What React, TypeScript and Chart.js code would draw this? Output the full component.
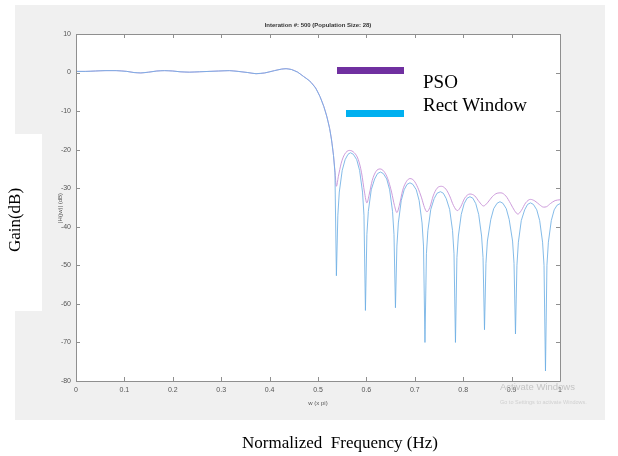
import React, { useEffect, useRef } from "react";
import { Chart, registerables } from "chart.js";

Chart.register(...registerables);

// Pass band + transition (shared by both curves), frequency in units of pi, gain in dB
const passFreq = [0, 0.02, 0.04, 0.06, 0.083, 0.105, 0.12, 0.134, 0.15, 0.167, 0.183, 0.2, 0.215, 0.234, 0.255, 0.275, 0.295, 0.317, 0.335, 0.355, 0.372, 0.39, 0.41, 0.425, 0.434, 0.445, 0.458, 0.47, 0.483, 0.495, 0.504, 0.512, 0.518, 0.524, 0.528, 0.532];
const passGain = [0.3, 0.3, 0.4, 0.5, 0.5, 0.3, 0.0, -0.1, 0.1, 0.4, 0.5, 0.4, 0.2, 0.1, 0.2, 0.3, 0.4, 0.5, 0.3, 0.0, -0.3, -0.1, 0.5, 0.9, 1.0, 0.8, 0.1, -1.0, -2.2, -4.0, -6.2, -8.8, -11.3, -14.5, -17.5, -21.5];

// Rect Window stop band
const rectFreq = [0.535, 0.538, 0.541, 0.544, 0.55, 0.556, 0.562, 0.567, 0.573, 0.58, 0.586, 0.592, 0.595, 0.598,
  0.601, 0.604, 0.61, 0.617, 0.623, 0.629, 0.635, 0.642, 0.648, 0.654, 0.657, 0.66,
  0.663, 0.666, 0.672, 0.678, 0.684, 0.69, 0.696, 0.703, 0.709, 0.715, 0.718, 0.721,
  0.724, 0.727, 0.733, 0.74, 0.746, 0.753, 0.759, 0.765, 0.772, 0.778, 0.781, 0.784,
  0.787, 0.79, 0.796, 0.802, 0.808, 0.814, 0.82, 0.826, 0.832, 0.838, 0.841, 0.844,
  0.847, 0.85, 0.857, 0.863, 0.87, 0.876, 0.882, 0.889, 0.895, 0.902, 0.905, 0.908,
  0.911, 0.914, 0.92, 0.927, 0.933, 0.939, 0.945, 0.952, 0.958, 0.964, 0.967, 0.97,
  0.973, 0.976, 0.982, 0.988, 0.994, 1.0];
const rectGain = [-26, -52.7, -37, -31, -25.4, -22.6, -21.2, -20.8, -21.2, -22.6, -25.4, -31, -37, -61.7,
  -42, -36, -30.4, -27.6, -26.2, -25.8, -26.2, -27.6, -30.4, -36, -42, -61,
  -45, -39, -33.2, -30.4, -29, -28.6, -29, -30.4, -33.2, -39, -45, -70,
  -47, -41, -35.5, -32.7, -31.3, -30.9, -31.3, -32.7, -35.5, -41, -47, -70,
  -48, -42.4, -36.8, -34, -32.6, -32.2, -32.6, -34, -36.8, -42.4, -48, -66.7,
  -49.5, -43.7, -38.1, -35.3, -33.9, -33.5, -33.9, -35.3, -38.1, -43.7, -49.5, -67.8,
  -50, -44, -38.4, -35.6, -34.2, -33.8, -34.2, -35.6, -38.4, -44, -50, -77.4,
  -50, -44, -38.4, -35.6, -34.4, -34];

// PSO stop band
const psoFreq = [0.535, 0.538, 0.542, 0.548, 0.555, 0.565, 0.575, 0.583, 0.59, 0.596, 0.601, 0.606, 0.612, 0.62, 0.628, 0.636, 0.644, 0.652, 0.658, 0.663, 0.668, 0.675, 0.683, 0.69, 0.698, 0.706, 0.714, 0.72, 0.725, 0.731, 0.738, 0.746, 0.755, 0.764, 0.772, 0.78, 0.788, 0.795, 0.803, 0.814, 0.824, 0.833, 0.842, 0.85, 0.86, 0.87, 0.878, 0.888, 0.898, 0.906, 0.913, 0.92, 0.929, 0.939, 0.948, 0.958, 0.966, 0.972, 0.98, 0.99, 1.0];
const psoGain = [-25.5, -29.5, -27, -23.5, -21.2, -20.2, -20.8, -22.5, -26, -31, -33.8, -31.5, -28, -25.6, -25, -25.6, -27.5, -31, -34.5, -36.3, -34.5, -30.5, -28.2, -27.5, -28, -29.8, -32.5, -35, -36.1, -35, -32, -30, -29.5, -30.2, -32, -34.5, -35.8, -34.8, -32.6, -31.5, -32, -33.5, -34.6, -33.8, -32.2, -31.3, -31.2, -32, -34, -35.8, -36.7, -35.8, -33.8, -32.9, -33.3, -34.3, -34.9, -34.8, -34, -33.2, -33];

const xTickStep = 0.1;
const yTickStep = 10;

const toPoints = (xs: number[], ys: number[]) => xs.map((x, i) => ({ x, y: ys[i] }));

const boxPlugin = {
  id: "matlabBox",
  afterDraw(chart: any) {
    const { ctx, chartArea } = chart;
    const { left, right, top, bottom } = chartArea;
    const xs = chart.scales.x;
    const ys = chart.scales.y;
    ctx.save();
    ctx.strokeStyle = "#8f8f8f";
    ctx.lineWidth = 1;
    ctx.beginPath();
    ctx.rect(Math.round(left) + 0.5, Math.round(top) + 0.5, Math.round(right - left), Math.round(bottom - top));
    ctx.stroke();
    const t = 4;
    ctx.beginPath();
    xs.ticks.forEach((tk: any) => {
      const px = Math.round(xs.getPixelForValue(tk.value)) + 0.5;
      ctx.moveTo(px, bottom);
      ctx.lineTo(px, bottom - t);
      ctx.moveTo(px, top);
      ctx.lineTo(px, top + t);
    });
    ys.ticks.forEach((tk: any) => {
      const py = Math.round(ys.getPixelForValue(tk.value)) + 0.5;
      ctx.moveTo(left, py);
      ctx.lineTo(left + t, py);
      ctx.moveTo(right, py);
      ctx.lineTo(right - t, py);
    });
    ctx.stroke();
    ctx.restore();
  },
};

export default function App() {
  const ref = useRef<HTMLCanvasElement | null>(null);

  useEffect(() => {
    if (!ref.current) return;
    const rectPts = toPoints(passFreq, passGain).concat(toPoints(rectFreq, rectGain));
    const psoPts = toPoints(passFreq, passGain).concat(toPoints(psoFreq, psoGain));
    const chart = new Chart(ref.current, {
      type: "line",
      data: {
        datasets: [
          {
            label: "Rect Window",
            data: rectPts,
            borderColor: "rgba(110,175,228,0.85)",
            borderWidth: 1,
            pointRadius: 0,
            tension: 0,
            order: 0,
          },
          {
            label: "PSO",
            data: psoPts,
            borderColor: "rgba(200,145,215,0.9)",
            borderWidth: 1,
            pointRadius: 0,
            cubicInterpolationMode: "monotone",
            order: 1,
          },
        ],
      },
      options: {
        responsive: false,
        maintainAspectRatio: false,
        animation: false,
        layout: { padding: { left: 40, right: 58, top: 34, bottom: 55 } },
        plugins: { legend: { display: false }, tooltip: { enabled: false }, title: { display: false } },
        scales: {
          x: {
            type: "linear",
            min: 0,
            max: 1,
            grid: { display: false, drawTicks: false },
            border: { display: false },
            ticks: {
              stepSize: xTickStep,
              padding: 5,
              maxRotation: 0,
              color: "#555",
              font: { family: "Liberation Sans, Arial, sans-serif", size: 7 },
              callback: (v: any) => {
                const n = Number(v);
                if (Math.abs(n) < 1e-9) return "0";
                if (Math.abs(n - 1) < 1e-9) return "1";
                return n.toFixed(1);
              },
            },
            afterFit: (s: any) => {
              s.height = 20;
            },
          },
          y: {
            type: "linear",
            min: -80,
            max: 10,
            grid: { display: false, drawTicks: false },
            border: { display: false },
            ticks: {
              stepSize: yTickStep,
              padding: 5,
              color: "#555",
              font: { family: "Liberation Sans, Arial, sans-serif", size: 7 },
            },
            afterFit: (s: any) => {
              s.width = 36;
            },
          },
        },
      },
      plugins: [boxPlugin],
    });
    return () => chart.destroy();
  }, []);

  const sans = "Liberation Sans, Arial, sans-serif";
  const serif = "Liberation Serif, 'Times New Roman', serif";

  return (
    <div style={{ position: "fixed", left: 0, top: 0, width: 618, height: 456, background: "#fff", overflow: "hidden" }}>
      <div style={{ position: "absolute", left: 15, top: 5, width: 590, height: 415, background: "#f0f0f0" }} />
      <div style={{ position: "absolute", left: 76, top: 34, width: 484, height: 347, background: "#fff" }} />
      <canvas ref={ref} width={618} height={456} style={{ position: "absolute", left: 0, top: 0, width: 618, height: 456 }} />
      <div style={{ position: "absolute", left: 218, top: 20, width: 200, textAlign: "center", fontFamily: sans, fontWeight: "bold", fontSize: 6, color: "#333", lineHeight: "10px", whiteSpace: "nowrap" }}>
        Interation #: 500 (Population Size: 28)
      </div>
      <div style={{ position: "absolute", left: 60, top: 208, width: 0, height: 0 }}>
        <div style={{ position: "absolute", left: -50, top: -5, width: 100, textAlign: "center", transform: "rotate(-90deg)", fontFamily: sans, fontSize: 6, color: "#555", lineHeight: "10px", whiteSpace: "nowrap" }}>
          |H(jw)| (dB)
        </div>
      </div>
      <div style={{ position: "absolute", left: 268, top: 398, width: 100, textAlign: "center", fontFamily: sans, fontSize: 6, color: "#555", lineHeight: "10px" }}>
        w (x pi)
      </div>
      <div style={{ position: "absolute", left: 500, top: 381, fontFamily: sans, fontSize: 9.5, color: "#c4c4c4", lineHeight: "12px", whiteSpace: "nowrap" }}>
        Activate Windows
      </div>
      <div style={{ position: "absolute", left: 500, top: 398, fontFamily: sans, fontSize: 5.5, color: "#d0d0d0", lineHeight: "8px", whiteSpace: "nowrap" }}>
        Go to Settings to activate Windows.
      </div>
      <div style={{ position: "absolute", left: 0, top: 134, width: 42, height: 177, background: "#fff" }} />
      <div style={{ position: "absolute", left: 15, top: 220, width: 0, height: 0 }}>
        <div style={{ position: "absolute", left: -60, top: -10, width: 120, textAlign: "center", transform: "rotate(-90deg)", fontFamily: serif, fontSize: 17, color: "#000", lineHeight: "20px", whiteSpace: "nowrap" }}>
          Gain(dB)
        </div>
      </div>
      <div style={{ position: "absolute", left: 337, top: 67, width: 67, height: 7, background: "#7030a0" }} />
      <div style={{ position: "absolute", left: 346, top: 110, width: 58, height: 7, background: "#00b0f0" }} />
      <div style={{ position: "absolute", left: 423, top: 70, fontFamily: serif, fontSize: 19, color: "#000", lineHeight: "24px", whiteSpace: "nowrap" }}>
        PSO
      </div>
      <div style={{ position: "absolute", left: 423, top: 93, fontFamily: serif, fontSize: 19, color: "#000", lineHeight: "24px", whiteSpace: "nowrap" }}>
        Rect Window
      </div>
      <div style={{ position: "absolute", left: 190, top: 432, width: 300, textAlign: "center", fontFamily: serif, fontSize: 17, color: "#000", lineHeight: "22px", whiteSpace: "pre" }}>
        Normalized  Frequency (Hz)
      </div>
    </div>
  );
}
